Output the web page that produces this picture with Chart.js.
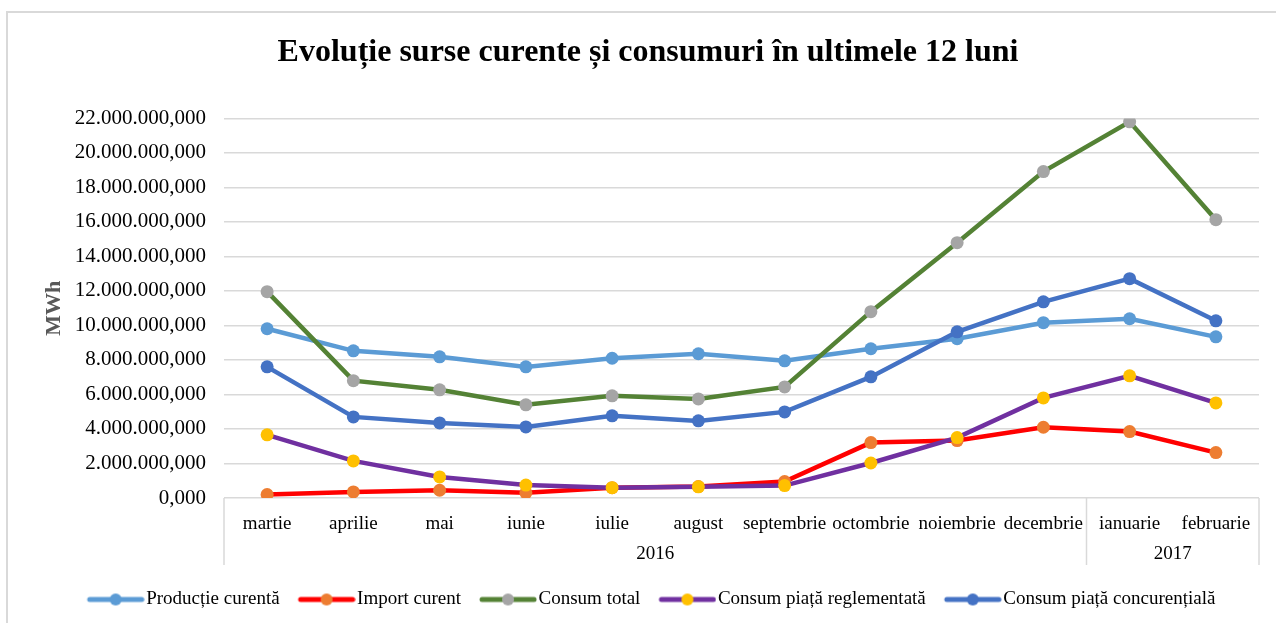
<!DOCTYPE html>
<html>
<head>
<meta charset="utf-8">
<script src="https://cdn.jsdelivr.net/npm/chart.js@4/dist/chart.umd.min.js"></script>
<style>
  html, body { margin: 0; padding: 0; background: #fff; }
  #wrap { width: 1276px; height: 623px; position: relative; }
</style>
</head>
<body>
<div id="wrap"><canvas id="chart"></canvas></div>
<script>
// luni si ani
const months = ['martie', 'aprilie', 'mai', 'iunie', 'iulie', 'august', 'septembrie',
  'octombrie', 'noiembrie', 'decembrie', 'ianuarie', 'februarie'];
const yearLabels = ['2016', '2017'];
const yearCounts = [10, 2]; // cate luni in fiecare an

// valori MWh
const productie = [9810000, 8530000, 8180000, 7600000, 8100000, 8360000, 7950000,
  8650000, 9230000, 10160000, 10390000, 9340000];
const importCurent = [200000, 350000, 450000, 300000, 600000, 660000, 950000,
  3210000, 3330000, 4100000, 3850000, 2630000];
const consumTotal = [11960000, 6800000, 6270000, 5400000, 5920000, 5740000, 6440000,
  10800000, 14800000, 18920000, 21800000, 16130000];
const consumReglementat = [3660000, 2150000, 1220000, 750000, 600000, 650000, 720000,
  2030000, 3500000, 5800000, 7080000, 5510000];
const consumConcurential = [7600000, 4700000, 4350000, 4120000, 4760000, 4470000, 4990000,
  7020000, 9630000, 11370000, 12710000, 10270000];

const yMax = 22000000;
const yStep = 2000000;

const serif = "'Liberation Serif', 'Times New Roman', serif";

function fmt(v) {
  return Math.round(v).toString().replace(/\B(?=(\d{3})+(?!\d))/g, '.') + ',000';
}

// mic desen pentru legenda: linie + punct (deplasat spre dreapta ca sa fie lipit de text)
function legendIcon(lineColor, dotColor) {
  const c = document.createElement('canvas');
  c.width = 72; c.height = 14;
  const g = c.getContext('2d');
  g.strokeStyle = lineColor;
  g.lineWidth = 5;
  g.lineCap = 'round';
  g.beginPath(); g.moveTo(17, 7); g.lineTo(69, 7); g.stroke();
  g.fillStyle = dotColor;
  g.beginPath(); g.arc(43, 7, 6, 0, Math.PI * 2); g.fill();
  return c;
}

function serie(label, data, lineColor, dotColor, order) {
  return {
    label: label,
    data: data,
    borderColor: lineColor,
    backgroundColor: dotColor,
    pointBackgroundColor: dotColor,
    pointBorderColor: dotColor,
    pointBorderWidth: 0,
    pointRadius: 6.5,
    pointHoverRadius: 6.5,
    borderWidth: 4.5,
    tension: 0,
    fill: false,
    order: order,
    legendStyle: legendIcon(lineColor, dotColor)
  };
}

const datasets = [
  serie('Producție curentă', productie, '#5B9BD5', '#5B9BD5', 5),
  serie('Import curent', importCurent, '#FF0000', '#ED7D31', 4),
  serie('Consum total', consumTotal, '#548235', '#A5A5A5', 3),
  serie('Consum piață reglementată', consumReglementat, '#7030A0', '#FFC000', 2),
  serie('Consum piață concurențială', consumConcurential, '#4472C4', '#4472C4', 1)
];

// chenarul exterior + axa cu ani
const framePlugin = {
  id: 'frame',
  beforeDraw(chart) {
    const ctx = chart.ctx;
    ctx.save();
    ctx.fillStyle = '#fff';
    ctx.fillRect(0, 0, chart.width, chart.height);
    ctx.strokeStyle = '#D9D9D9';
    ctx.lineWidth = 2;
    ctx.beginPath();
    ctx.moveTo(7, chart.height);
    ctx.lineTo(7, 12);
    ctx.lineTo(chart.width, 12);
    ctx.stroke();
    ctx.restore();
  },
  afterDraw(chart) {
    const ctx = chart.ctx;
    const x = chart.scales.x;
    const area = chart.chartArea;
    const bottom = area.bottom + 67;
    const half = (x.getPixelForValue(1) - x.getPixelForValue(0)) / 2;
    ctx.save();
    ctx.strokeStyle = '#D9D9D9';
    ctx.lineWidth = 1.5;
    ctx.fillStyle = '#000';
    ctx.font = '19px ' + serif;
    ctx.textAlign = 'center';
    ctx.textBaseline = 'middle';
    let start = 0;
    let left = area.left;
    ctx.beginPath();
    ctx.moveTo(left, area.bottom);
    ctx.lineTo(left, bottom);
    ctx.stroke();
    yearLabels.forEach((yr, i) => {
      const end = start + yearCounts[i] - 1;
      const right = x.getPixelForValue(end) + half;
      ctx.beginPath();
      ctx.moveTo(right, area.bottom);
      ctx.lineTo(right, bottom);
      ctx.stroke();
      ctx.fillText(yr, (left + right) / 2, area.bottom + 56);
      left = right;
      start = end + 1;
    });
    ctx.restore();
  }
};

new Chart(document.getElementById('chart'), {
  type: 'line',
  data: { labels: months, datasets: datasets },
  plugins: [framePlugin],
  options: {
    responsive: true,
    maintainAspectRatio: false,
    animation: false,
    layout: { padding: { left: 37, right: 17, top: 0, bottom: 4 } },
    plugins: {
      tooltip: { enabled: false },
      title: {
        display: true,
        text: 'Evoluție surse curente și consumuri în ultimele 12 luni',
        color: '#000',
        font: { family: serif, size: 32, weight: 'bold' },
        padding: { top: 34, bottom: 46 }
      },
      legend: {
        position: 'bottom',
        labels: {
          color: '#000',
          font: { family: serif, size: 19 },
          usePointStyle: true,
          pointStyleWidth: 56,
          padding: 12,
          sort: (a, b) => a.datasetIndex - b.datasetIndex,
          generateLabels(chart) {
            return chart.data.datasets.map((d, i) => ({
              text: d.label,
              datasetIndex: i,
              pointStyle: d.legendStyle,
              fillStyle: d.borderColor,
              strokeStyle: d.borderColor,
              lineWidth: 0,
              hidden: false,
              fontColor: '#000'
            }));
          }
        }
      }
    },
    scales: {
      x: {
        offset: true,
        grid: { display: false, drawTicks: false },
        border: { display: false },
        ticks: {
          color: '#000',
          font: { family: serif, size: 19 },
          padding: 15,
          autoSkip: false,
          maxRotation: 0
        },
        afterFit(scale) { scale.height = 80; }
      },
      y: {
        min: 0,
        max: yMax,
        grid: { color: '#D9D9D9', lineWidth: 1.5, drawTicks: false },
        border: { display: false },
        ticks: {
          stepSize: yStep,
          color: '#000',
          font: { family: serif, size: 21 },
          padding: 18,
          callback: v => fmt(v)
        },
        title: {
          display: true,
          text: 'MWh',
          color: '#595959',
          font: { family: serif, size: 22, weight: 'bold' }
        },
        afterFit(scale) { scale.width = 224 - 37; }
      }
    }
  }
});
</script>
</body>
</html>
